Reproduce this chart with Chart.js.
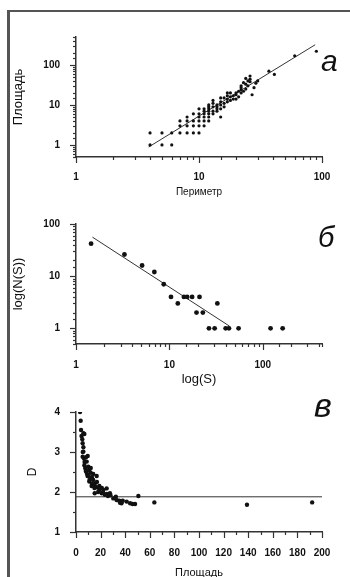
<!DOCTYPE html>
<html>
<head>
<meta charset="utf-8">
<script src="https://cdn.jsdelivr.net/npm/chart.js@4.4.1/dist/chart.umd.min.js"></script>
<style>
  html, body { margin: 0; padding: 0; background: #fff; overflow: hidden; }
  body { width: 350px; height: 577px; position: relative; font-family: "Liberation Sans", Arial, sans-serif; }
  .frame { position: absolute; left: 7px; top: 10px; right: -5px; bottom: -5px;
           border-left: 3px solid #555; border-top: 2px solid #555; }
  canvas { position: absolute; left: 0; }
  .tag { position: absolute; font-style: italic; line-height: 1; color: #111; }
</style>
</head>
<body>
<div class="frame"></div>
<canvas id="chartA" width="350" height="200" style="top:0px"></canvas>
<canvas id="chartB" width="350" height="190" style="top:200px"></canvas>
<canvas id="chartC" width="350" height="195" style="top:390px"></canvas>
<div class="tag" style="left:321px; top:46px; font-size:30px">а</div>
<div class="tag" style="left:318px; top:223px; font-size:29px">б</div>
<div class="tag" style="left:314px; top:388px; font-size:34px">в</div>
<script>
// panel а: площадь против периметра
const perimA = [4,4,5,5,6,6,7,7,7,8,8,8,8,9,9,9,9,10,10,10,10,10,10,11,11,11,11,11,11,
  12,12,12,12,12,12,12,13,13,13,13,13,14,14,14,14,15,15,15,15,15,16,16,16,17,17,17,17,
  18,18,18,19,19,20,20,20,21,21,22,22,22,22,23,23,24,24,24,25,25,26,26,26,27,28,29,30,37,41,60,90];
const areaA = [1,2,1,2,1,2,2,3,4,2,3,4,5,2,3,4,6,2,3,4,5,6,8,3,4,5,6,7,8,
  4,5,6,7,8,9,10,6,7,9,11,13,7,8,9,10,5,8,10,12,15,9,11,15,12,14,17,20,
  13,16,20,14,17,14,18,20,16,22,20,24,27,30,22,36,25,33,46,30,40,38,44,53,18,27,35,40,70,58,170,220];
const fitAx = [3.9, 88];
const fitAy = [0.89, 320];
const xTicksA = [1, 10, 100];
const yTicksA = [1, 10, 100];

// panel б
const sB = [1.45,3.3,5.1,6.9,8.7,10.4,12.3,14.3,15.5,17.5,21,19.5,22.8,32.6,26.5,30.5,40,43.4,55,121,163];
const nB = [42,26,16,12,7,4,3,4,4,4,4,2,2,3,1,1,1,1,1,1,1];
const fitBx = [1.5, 44];
const fitBy = [56, 1.1];
const xTicksB = [1, 10, 100];
const yTicksB = [1, 10, 100];

// panel в
const areaC = [3.3,3.8,4.1,6,6.8,5.1,5.4,6,6,5.4,6.5,8.1,8.7,6.8,10,10.8,8.1,11.9,9.4,12.7,
  14,10.8,16.8,15.2,12.7,16.8,18.9,15.2,20.9,22.2,24.9,23.5,27.6,30.3,32.4,35.2,37,35.8,41.2,46,
  48,50.7,63.7,139,192,7.5,9,11,13,9.5,12,14,17,19,21,25,28,33,38,44,
  4.5,5.5,7,8,10,13,15,18,22,26];
const dC = [4.0,3.78,3.55,3.47,3.45,3.32,3.22,3.12,3.01,2.88,2.84,2.87,2.76,2.67,2.63,2.55,2.51,2.48,2.4,2.37,
  2.3,2.26,2.4,2.2,2.15,2.12,2.05,1.97,1.97,2.05,2.09,1.93,1.97,1.84,1.88,1.78,1.72,1.73,1.76,1.7,
  1.7,1.9,1.74,1.68,1.74,2.6,2.45,2.3,2.2,2.9,2.6,2.45,2.25,2.15,2.1,1.95,1.92,1.8,1.78,1.72,
  3.4,3.0,2.75,2.55,2.4,2.35,2.1,2.0,1.98,1.9];
const levelCx = [0, 200];
const levelCy = [1.88, 1.88];
const xTicksC = [0, 20, 40, 60, 80, 100, 120, 140, 160, 180, 200];
const yTicksC = [1, 2, 3, 4];

const FONT = '"Liberation Sans", Arial, sans-serif';
const INK = '#111';

function pts(xs, ys) {
  return xs.map((v, i) => ({ x: v, y: ys[i] }));
}

function labelFrom(list) {
  return v => list.some(t => Math.abs(t - v) < 1e-6 * Math.max(1, t)) ? String(v) : '';
}

// short minor ticks, long ticks where there is a label
const tickMarks = {
  id: 'tickMarks',
  afterDraw(chart) {
    const ctx = chart.ctx;
    const xs = chart.scales.x, ys = chart.scales.y;
    ctx.save();
    ctx.strokeStyle = '#333';
    ctx.lineWidth = 1.2;
    xs.ticks.forEach(t => {
      const px = Math.round(xs.getPixelForValue(t.value)) + 0.5;
      const len = t.label !== '' ? 6 : 3;
      ctx.beginPath();
      ctx.moveTo(px, xs.top);
      ctx.lineTo(px, xs.top + len);
      ctx.stroke();
    });
    ys.ticks.forEach(t => {
      const py = Math.round(ys.getPixelForValue(t.value)) + 0.5;
      const len = t.label !== '' ? 6 : 3;
      ctx.beginPath();
      ctx.moveTo(ys.right, py);
      ctx.lineTo(ys.right - len, py);
      ctx.stroke();
    });
    ctx.restore();
  }
};

function axis(o) {
  return {
    type: o.type,
    min: o.min,
    max: o.max,
    afterFit: s => { if (o.w) s.width = o.w; if (o.h) s.height = o.h; },
    border: { display: true, color: '#333', width: 1.5 },
    grid: { display: true, drawOnChartArea: false, drawTicks: true, tickLength: 6, tickColor: 'rgba(0,0,0,0)' },
    ticks: {
      autoSkip: false,
      maxRotation: 0,
      stepSize: o.step,
      padding: o.pad,
      color: INK,
      font: { family: FONT, size: 10, weight: 'bold' },
      callback: labelFrom(o.labels)
    },
    title: {
      display: true,
      text: o.title,
      color: INK,
      font: { family: FONT, size: o.titleSize },
      padding: o.titlePad
    }
  };
}

function makeChart(id, points, line, radius, xOpt, yOpt, pad) {
  return new Chart(document.getElementById(id), {
    type: 'scatter',
    data: {
      datasets: [
        { data: points, pointRadius: radius, pointHoverRadius: radius, backgroundColor: '#111', borderWidth: 0 },
        { data: line, showLine: true, pointRadius: 0, borderColor: '#333', borderWidth: 1 }
      ]
    },
    options: {
      responsive: false,
      animation: false,
      layout: { padding: pad },
      plugins: { legend: { display: false }, tooltip: { enabled: false } },
      scales: { x: axis(xOpt), y: axis(yOpt) }
    },
    plugins: [tickMarks]
  });
}

makeChart('chartA', pts(perimA, areaA), pts(fitAx, fitAy), 1.6,
  { type: 'logarithmic', min: 1, max: 100, labels: xTicksA, pad: 8, h: 41,
    title: 'Периметр', titleSize: 10, titlePad: { top: 0, bottom: 0 } },
  { type: 'logarithmic', min: 0.5, max: 500, labels: yTicksA, pad: 10, w: 68,
    title: 'Площадь', titleSize: 13, titlePad: { top: 3, bottom: 0 } },
  { left: 8, top: 37, right: 28, bottom: 2 });

makeChart('chartB', pts(sB, nB), pts(fitBx, fitBy), 2.4,
  { type: 'logarithmic', min: 1, max: 430, labels: xTicksB, pad: 9, h: 43,
    title: 'log(S)', titleSize: 13, titlePad: { top: 0, bottom: 0 } },
  { type: 'logarithmic', min: 0.5, max: 100, labels: yTicksB, pad: 10, w: 68,
    title: 'log(N(S))', titleSize: 13, titlePad: { top: 3, bottom: 0 } },
  { left: 8, top: 24, right: 28, bottom: 3 });

makeChart('chartC', pts(areaC, dC), pts(levelCx, levelCy), 2.2,
  { type: 'linear', min: 0, max: 200, step: 10, labels: xTicksC, pad: 9, h: 48,
    title: 'Площадь', titleSize: 11, titlePad: { top: 0, bottom: 0 } },
  { type: 'linear', min: 1, max: 4, step: 0.5, labels: yTicksC, pad: 10, w: 68,
    title: 'D', titleSize: 12, titlePad: { top: 17, bottom: 0 } },
  { left: 8, top: 22, right: 28, bottom: 5 });
</script>
</body>
</html>
